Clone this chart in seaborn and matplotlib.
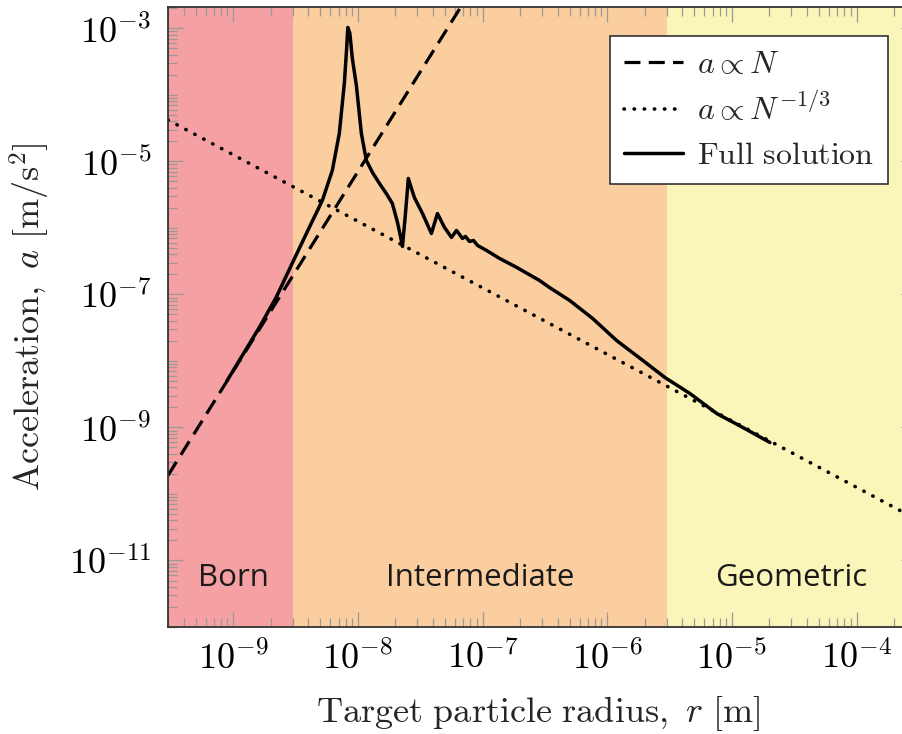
import numpy as np
import matplotlib
matplotlib.use("Agg")
import matplotlib.pyplot as plt
from matplotlib.ticker import LogLocator, FixedLocator, FuncFormatter, NullFormatter
import seaborn as sns

# ---------------- data ----------------
radius_full = [8.95e-10, 1.62e-9, 2.21e-9, 2.92e-9, 4.08e-9, 5.19e-9, 6.24e-9, 7.10e-9,
               7.79e-9, 8.09e-9, 8.31e-9, 8.63e-9, 9.03e-9, 9.73e-9, 1.067e-8, 1.17e-8,
               1.31e-8, 1.49e-8, 1.69e-8, 1.89e-8, 2.08e-8, 2.19e-8, 2.28e-8, 2.41e-8,
               2.54e-8, 2.69e-8, 2.84e-8, 3.30e-8, 3.89e-8, 4.35e-8, 4.95e-8, 5.64e-8,
               6.18e-8, 6.91e-8, 7.30e-8, 7.86e-8, 8.47e-8, 9.12e-8, 1.077e-7, 1.37e-7,
               1.88e-7, 2.87e-7, 3.45e-7, 5.00e-7, 7.65e-7, 1.19e-6, 1.93e-6, 2.90e-6,
               4.60e-6, 7.57e-6, 1.225e-5, 2.02e-5]
accel_full = [5.09e-9, 3.19e-8, 9.01e-8, 2.73e-7, 1.02e-6, 2.59e-6, 7.32e-6, 2.64e-5,
              1.49e-4, 4.36e-4, 1.035e-3, 8.41e-4, 3.54e-4, 1.39e-4, 2.64e-5, 1.035e-5,
              6.83e-6, 4.67e-6, 3.30e-6, 2.34e-6, 1.21e-6, 7.71e-7, 5.27e-7, 1.65e-6,
              5.55e-6, 3.93e-6, 2.87e-6, 1.65e-6, 8.27e-7, 1.65e-6, 1.02e-6, 7.20e-7,
              9.17e-7, 6.95e-7, 7.45e-7, 6.27e-7, 6.49e-7, 5.46e-7, 4.59e-7, 3.48e-7,
              2.55e-7, 1.62e-7, 1.27e-7, 8.13e-8, 4.35e-8, 2.03e-8, 1.02e-8, 5.65e-9,
              3.25e-9, 1.62e-9, 1.0e-9, 5.95e-10]

radius_lin = [3.0e-10, 7.0e-8]        # a ∝ N
accel_lin = [1.9e-10, 2.4e-3]
radius_geo = [3.0e-10, 3.0e-4]        # a ∝ N^{-1/3}
accel_geo = [4.2e-5, 4.2e-11]

region_names = ["Born", "Intermediate", "Geometric"]
region_edges = [1e-10, 3e-9, 3e-6, 1e-3]
region_label_centers = [1e-9, 9.5e-8, 3e-5]
region_colors = ["#F5A0A2", "#FBCEA0", "#FAF6BA"]

x_major = [1e-9, 1e-8, 1e-7, 1e-6, 1e-5, 1e-4]
y_major = [1e-11, 1e-9, 1e-7, 1e-5, 1e-3]
x_limits = [3e-10, 3e-4]
y_limits = [1e-12, 2.1e-3]

legend_labels = [r"$a \propto N$", r"$a \propto N^{-1/3}$", r"$\mathrm{Full\ solution}$"]

# ---------------- style ----------------
sns.set_style("ticks")
plt.rcParams["font.family"] = ["DejaVu Sans"]
plt.rcParams["mathtext.fontset"] = "cm"

W, H = 902, 734
fig = plt.figure(figsize=(W / 100, H / 100), dpi=100)
ax = fig.add_axes([168 / W, 107 / H, 748 / W, 620 / H])
ax.set_xscale("log")
ax.set_yscale("log")

for i, name in enumerate(region_names):
    ax.axvspan(region_edges[i], region_edges[i + 1], color=region_colors[i], lw=0, zorder=0)
    ax.text(region_label_centers[i], 0.079, name, transform=ax.get_xaxis_transform(),
            ha="center", va="center", fontsize=22.5, family="Open Sans", color="#1a1a1a")

sns.lineplot(x=radius_lin, y=accel_lin, ax=ax, color="black", lw=2.3,
             linestyle=(0, (5.0, 2.6)), sort=False, estimator=None, zorder=3)
sns.lineplot(x=radius_geo, y=accel_geo, ax=ax, color="black", lw=2.6,
             linestyle=(0, (0.1, 2.7)), dash_capstyle="round", sort=False,
             estimator=None, zorder=3)
sns.lineplot(x=radius_full, y=accel_full, ax=ax, color="black", lw=2.5,
             sort=False, estimator=None, zorder=4, solid_joinstyle="round")

lines = ax.get_lines()
leg = ax.legend(lines[:3], legend_labels, loc="upper right",
                bbox_to_anchor=(888 / W, 1 - 36 / H), bbox_transform=fig.transFigure,
                borderaxespad=0, fancybox=False, framealpha=1, edgecolor="#333333",
                fontsize=23, handlelength=1.85, handletextpad=0.45, labelspacing=0.4,
                borderpad=0.42)
leg.get_frame().set_linewidth(1.2)

ax.set_xlim(*x_limits)
ax.set_ylim(*y_limits)

fmt = FuncFormatter(lambda v, p: r"$10^{%d}$" % int(round(np.log10(v))))
ax.xaxis.set_major_locator(FixedLocator(x_major))
ax.yaxis.set_major_locator(FixedLocator(y_major))
ax.xaxis.set_major_formatter(fmt)
ax.yaxis.set_major_formatter(fmt)
ax.xaxis.set_minor_locator(LogLocator(base=10, subs=np.arange(2, 10), numticks=100))
ax.yaxis.set_minor_locator(LogLocator(base=10, subs=np.arange(1, 10), numticks=100))
ax.xaxis.set_minor_formatter(NullFormatter())
ax.yaxis.set_minor_formatter(NullFormatter())

ax.tick_params(which="both", direction="in", top=True, right=True, color="#999999",
               width=0.9, labelsize=26, labelcolor="black")
ax.tick_params(which="major", length=10.5)
ax.tick_params(which="minor", length=6.5)
ax.tick_params(axis="x", which="major", pad=10)
ax.tick_params(axis="y", which="major", pad=12)

for s in ax.spines.values():
    s.set_color("#333333")
    s.set_linewidth(1.3)
    s.set_zorder(5)

ax.set_xlabel(r"$\mathrm{Target\ particle\ radius,}\ r\ [\mathrm{m}]$", fontsize=26)
ax.set_ylabel(r"$\mathrm{Acceleration,}\ a\ [\mathrm{m/s}^2]$", fontsize=26)
ax.xaxis.set_label_coords(0.494, -0.108)
ax.yaxis.set_label_coords(-0.155, 0.5)

fig.savefig("out.png", dpi=100)
